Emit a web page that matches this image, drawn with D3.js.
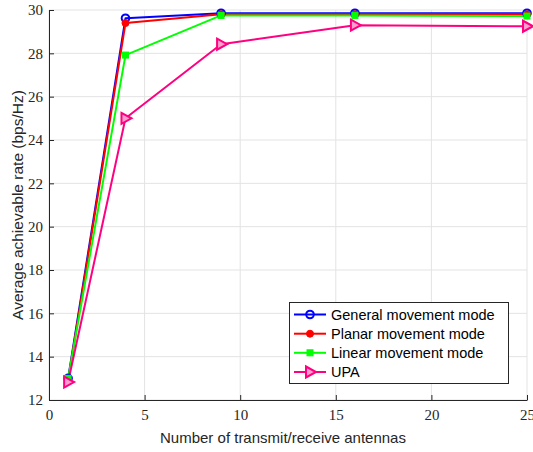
<!DOCTYPE html>
<html><head><meta charset="utf-8">
<script src="https://cdn.jsdelivr.net/npm/d3@7"></script>
<style>body{margin:0;background:#fff}</style>
</head><body>
<script>
const antennas = [1, 4, 9, 16, 25];
const generalMode = [13.0, 29.62, 29.85, 29.85, 29.85];
const planarMode = [12.9, 29.4, 29.8, 29.8, 29.8];
const linearMode = [13.0, 27.92, 29.75, 29.75, 29.72];
const upaMode = [12.83, 25.0, 28.42, 29.3, 29.25];
const xTicks = [0, 5, 10, 15, 20, 25];
const yTicks = [12, 14, 16, 18, 20, 22, 24, 26, 28, 30];
const seriesNames = ["General movement mode", "Planar movement mode", "Linear movement mode", "UPA"];

const W = 533, H = 452;
const m = {l: 49, r: 6, t: 10, b: 52};
const svg = d3.select("body").append("svg").attr("width", W).attr("height", H);
const x = d3.scaleLinear().domain([0, 25]).range([m.l, W - m.r]);
const y = d3.scaleLinear().domain([12, 30]).range([H - m.b, m.t]);

// grid
svg.append("g").selectAll("line").data(xTicks).join("line")
  .attr("x1", d => x(d)).attr("x2", d => x(d)).attr("y1", y(12)).attr("y2", y(30))
  .attr("stroke", "#e3e3e3").attr("stroke-width", 1);
svg.append("g").selectAll("line").data(yTicks).join("line")
  .attr("y1", d => y(d)).attr("y2", d => y(d)).attr("x1", x(0)).attr("x2", x(25))
  .attr("stroke", "#e3e3e3").attr("stroke-width", 1);

const xAxis = svg.append("g").attr("transform", `translate(0,${y(12)})`)
  .call(d3.axisBottom(x).tickValues(xTicks).tickSizeInner(-5).tickSizeOuter(0).tickPadding(9));
const yAxis = svg.append("g").attr("transform", `translate(${x(0)},0)`)
  .call(d3.axisLeft(y).tickValues(yTicks).tickSizeInner(-5).tickSizeOuter(0).tickPadding(6));
[xAxis, yAxis].forEach(a => {
  a.attr("font-family", "Liberation Serif").attr("font-size", 15);
  a.select(".domain").attr("stroke", "#262626");
  a.selectAll(".tick line").attr("stroke", "#262626");
  a.selectAll("text").attr("font-family", "Liberation Serif").attr("font-size", 15).attr("fill", "#262626");
});

svg.append("text").attr("x", (x(0) + x(25)) / 2 - 5).attr("y", 443).attr("text-anchor", "middle")
  .attr("font-family", "Liberation Sans").attr("font-size", 15).attr("fill", "#262626")
  .text("Number of transmit/receive antennas");
svg.append("text").attr("transform", `translate(23,${(y(12) + y(30)) / 2}) rotate(-90)`).attr("text-anchor", "middle")
  .attr("font-family", "Liberation Sans").attr("font-size", 15.5).attr("fill", "#262626")
  .text("Average achievable rate (bps/Hz)");

const series = [
  {vals: generalMode, color: "#0000ff", marker: "circleOpen"},
  {vals: planarMode, color: "#ff0000", marker: "circleFilled"},
  {vals: linearMode, color: "#00ff00", marker: "square"},
  {vals: upaMode, color: "#ff0080", marker: "triangle"}
];
const line = d3.line().x((d, i) => x(antennas[i])).y(d => y(d));

function drawMarker(g, cx, cy, type, color) {
  if (type === "circleOpen") {
    g.append("circle").attr("cx", cx).attr("cy", cy).attr("r", 3.8).attr("fill", "none").attr("stroke", color).attr("stroke-width", 2);
  } else if (type === "circleFilled") {
    g.append("circle").attr("cx", cx).attr("cy", cy).attr("r", 3.5).attr("fill", color).attr("stroke", color).attr("stroke-width", 1);
  } else if (type === "square") {
    g.append("rect").attr("x", cx - 3).attr("y", cy - 3).attr("width", 6).attr("height", 6).attr("fill", color).attr("stroke", color).attr("stroke-width", 1);
  } else {
    g.append("path").attr("d", `M${cx - 4},${cy - 5.5}L${cx + 6},${cy}L${cx - 4},${cy + 5.5}Z`)
      .attr("fill", "#ff9fd0").attr("stroke", color).attr("stroke-width", 2).attr("stroke-linejoin", "miter");
  }
}

series.forEach(s => {
  svg.append("path").datum(s.vals).attr("d", line).attr("fill", "none")
    .attr("stroke", s.color).attr("stroke-width", 2).attr("stroke-linejoin", "round");
});
series.forEach(s => {
  const g = svg.append("g");
  s.vals.forEach((v, i) => drawMarker(g, x(antennas[i]), y(v), s.marker, s.color));
});

// legend
const lg = svg.append("g");
lg.append("rect").attr("x", 289.5).attr("y", 302.5).attr("width", 219).attr("height", 81)
  .attr("fill", "#fff").attr("stroke", "#262626").attr("stroke-width", 1);
const rows = [314.5, 333.7, 352.8, 372];
series.forEach((s, i) => {
  lg.append("line").attr("x1", 294).attr("x2", 326).attr("y1", rows[i]).attr("y2", rows[i])
    .attr("stroke", s.color).attr("stroke-width", 2);
  drawMarker(lg, 310, rows[i], s.marker, s.color);
  lg.append("text").attr("x", 331).attr("y", rows[i] + 5).attr("font-family", "Liberation Sans")
    .attr("font-size", 14.5).attr("fill", "#000").text(seriesNames[i]);
});
</script>
</body></html>
